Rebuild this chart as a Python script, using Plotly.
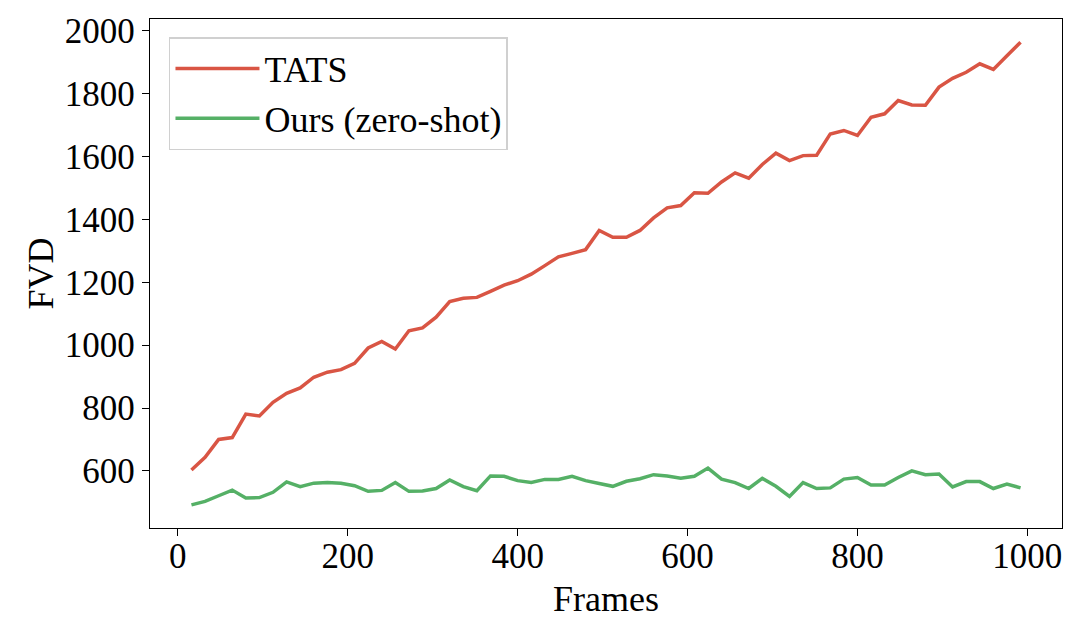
import plotly.graph_objects as go

frames = [16 * i for i in range(1, 63)]

tats = [603, 643, 700, 706, 781, 775, 818, 847, 864, 898, 914, 922, 942, 991, 1012, 988,
        1046, 1055, 1089, 1139, 1149, 1152, 1171, 1191, 1205, 1226, 1253, 1281, 1292, 1304,
        1365, 1343, 1343, 1365, 1405, 1437, 1444, 1485, 1483, 1519, 1548, 1531, 1575, 1611,
        1587, 1603, 1604, 1672, 1683, 1667, 1725, 1736, 1778, 1764, 1763, 1821, 1849, 1868,
        1895, 1877, 1921, 1964]

ours = [492, 503, 521, 539, 514, 515, 532, 565, 550, 561, 563, 561, 553, 535, 538, 563,
        535, 536, 544, 571, 550, 537, 584, 583, 569, 563, 573, 573, 583, 569, 560, 551,
        567, 575, 588, 584, 577, 583, 609, 574, 563, 544, 576, 551, 519, 563, 544, 546,
        574, 579, 555, 555, 579, 600, 588, 590, 549, 566, 566, 544, 558, 546]

x_ticks = [0, 200, 400, 600, 800, 1000]
y_ticks = [600, 800, 1000, 1200, 1400, 1600, 1800, 2000]

FONT = "Liberation Serif, Times New Roman, serif"

fig = go.Figure()
fig.add_trace(go.Scatter(x=frames, y=tats, mode="lines", name="TATS",
                         line=dict(color="#d95544", width=3.5)))
fig.add_trace(go.Scatter(x=frames, y=ours, mode="lines", name="Ours (zero-shot)",
                         line=dict(color="#55b066", width=3.5)))

axis_common = dict(showline=True, linecolor="black", linewidth=1.3, mirror=True,
                   ticks="outside", ticklen=7, tickwidth=1.3, tickcolor="black",
                   showgrid=False, zeroline=False, automargin=False,
                   tickfont=dict(family=FONT, size=35, color="black"))

fig.update_xaxes(range=[-32.8, 1040.8], tickvals=x_ticks, ticklabelstandoff=-10,
                 title=dict(text="Frames", font=dict(family=FONT, size=36, color="black"), standoff=10),
                 **axis_common)
fig.update_yaxes(range=[418.4, 2037.6], tickvals=y_ticks,
                 title=dict(text="FVD", font=dict(family=FONT, size=36, color="black"), standoff=0),
                 **axis_common)

fig.update_layout(
    width=1072, height=611,
    margin=dict(l=142, r=18, t=11, b=91),
    plot_bgcolor="white", paper_bgcolor="white",
    font=dict(family=FONT, color="black"),
    legend=dict(x=0.0208, y=0.9646, xanchor="left", yanchor="top",
                bgcolor="rgba(255,255,255,0.8)", bordercolor="#d0d0d0", borderwidth=1.5,
                font=dict(family=FONT, size=36, color="black"),
                itemwidth=84, tracegroupgap=0),
)

fig.write_html("out.html")
